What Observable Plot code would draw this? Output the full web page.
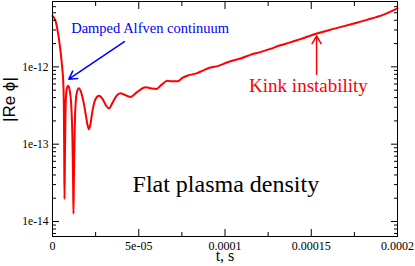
<!DOCTYPE html>
<html><head><meta charset="utf-8">
<script src="https://cdn.jsdelivr.net/npm/d3@7"></script>
<script src="https://cdn.jsdelivr.net/npm/@observablehq/plot@0.6"></script>
<style>body{margin:0;background:#fff}</style>
</head><body><div id="chart"></div>
<script>
// time in seconds
const time = [0, 1.74e-6, 3.30e-6, 4.63e-6, 5.62e-6, 6.20e-6, 6.55e-6, 6.78e-6, 6.95e-6, 7.24e-6,
  7.70e-6, 8.28e-6, 9.09e-6, 10.02e-6, 10.89e-6, 11.58e-6, 11.93e-6, 12.16e-6, 12.39e-6, 12.74e-6,
  13.32e-6, 14.19e-6, 15.23e-6, 16.51e-6, 17.96e-6, 19.40e-6, 20.27e-6, 21.14e-6, 22.01e-6, 23.17e-6,
  24.91e-6, 26.93e-6, 28.96e-6, 30.99e-6, 32.72e-6, 34.75e-6, 37.07e-6, 39.39e-6, 41.70e-6, 45.18e-6,
  49.23e-6, 53.87e-6, 56.76e-6, 60.24e-6, 63.13e-6, 66.61e-6, 69.50e-6, 72.40e-6, 75.30e-6, 78.77e-6,
  83.40e-6, 86.88e-6, 91.51e-6, 96.15e-6, 100.78e-6, 104.84e-6, 109.47e-6, 114.68e-6, 120.47e-6, 126.27e-6,
  132.06e-6, 137.85e-6, 143.64e-6, 153.31e-6, 162.93e-6, 172.60e-6, 182.27e-6, 191.89e-6, 200e-6];
// |Re phi|
const rePhi = [4.57e-12, 3.94e-12, 2.65e-12, 1.61e-12, 9.8e-13, 6.6e-13, 3.63e-13, 8.2e-14, 1.95e-14, 8.2e-14,
  3.63e-13, 5.2e-13, 5.7e-13, 4.9e-13, 3.13e-13, 1.1e-13, 3.35e-14, 1.26e-14, 3.35e-14, 1.1e-13,
  3.13e-13, 4.75e-13, 5.3e-13, 4.75e-13, 3.52e-13, 2.32e-13, 1.78e-13, 1.56e-13, 1.83e-13, 2.7e-13,
  3.82e-13, 4.22e-13, 3.86e-13, 3.18e-13, 2.9e-13, 3.42e-13, 4.22e-13, 4.54e-13, 4.35e-13, 4.09e-13,
  4.75e-13, 5.43e-13, 5.3e-13, 5.19e-13, 5.85e-13, 6.59e-13, 6.49e-13, 6.49e-13, 7.21e-13, 7.76e-13,
  8.24e-13, 8.87e-13, 9.79e-13, 1.03e-12, 1.13e-12, 1.21e-12, 1.29e-12, 1.43e-12, 1.55e-12, 1.71e-12,
  1.9e-12, 2.07e-12, 2.28e-12, 2.7e-12, 3.1e-12, 3.53e-12, 4.05e-12, 4.73e-12, 5.71e-12];

const xTicks = [0, 5e-5, 1e-4, 1.5e-4, 2e-4];
const xTickLabels = ["0", "5e-05", "0.0001", "0.00015", "0.0002"];
const xMinorTicks = [2.5e-5, 7.5e-5, 1.25e-4, 1.75e-4];
const yTicks = [1e-14, 1e-13, 1e-12];
const yTickLabels = ["1e-14", "1e-13", "1e-12"];
const yMinorTicks = [7e-15, 8e-15, 9e-15,
  2e-14, 3e-14, 4e-14, 5e-14, 6e-14, 7e-14, 8e-14, 9e-14,
  2e-13, 3e-13, 4e-13, 5e-13, 6e-13, 7e-13, 8e-13, 9e-13,
  2e-12, 3e-12, 4e-12, 5e-12, 6e-12, 7e-12];
const xDomain = [0, 2e-4];
const yDomain = [6.4e-15, 7e-12];

const xLabel = "t, s";
const yLabel = "|Re \u03D5|";

const notes = [
  {text: "Damped Alfven continuum", x: 10.83e-6, y: 2.78e-12},
  {text: "Kink instability", x: 148.4e-6, y: 4.79e-13},
  {text: "Flat plasma density", x: 100.5e-6, y: 2.42e-14}
];
const arrows = [
  {x1: 41.7e-6, y1: 2.12e-12, x2: 9.44e-6, y2: 6.93e-13},
  {x1: 153.1e-6, y1: 8.05e-13, x2: 153.1e-6, y2: 2.52e-12}
];

const series = time.map((t, i) => ({t, v: rePhi[i]}));
const serif = "Liberation Serif";
const sans = "Liberation Sans";

const chart = Plot.plot({
  width: 415,
  height: 266,
  marginLeft: 52,
  marginRight: 18,
  marginTop: 1,
  marginBottom: 30,
  style: {fontFamily: serif, fontSize: "12px", background: "#fff", color: "black"},
  x: {domain: xDomain},
  y: {type: "log", domain: yDomain},
  marks: [
    Plot.line(series, {x: "t", y: "v", stroke: "#ff0000", strokeWidth: 2, curve: "monotone-x"}),
    Plot.frame({stroke: "black", strokeWidth: 1}),
    Plot.axisX({anchor: "bottom", ticks: xTicks, tickSize: -7, tickPadding: 12, fontSize: 12, fontFamily: serif,
      tickFormat: d => xTickLabels[xTicks.indexOf(d)], label: null}),
    Plot.axisX({anchor: "bottom", ticks: xMinorTicks, tickSize: -4, fill: "none", label: null}),
    Plot.axisX({anchor: "top", ticks: xTicks, tickSize: -7, fill: "none", label: null}),
    Plot.axisX({anchor: "top", ticks: xMinorTicks, tickSize: -4, fill: "none", label: null}),
    Plot.axisY({anchor: "left", ticks: yTicks, tickSize: -7, tickPadding: 11, fontSize: 11.5, fontFamily: serif,
      tickFormat: d => yTickLabels[yTicks.indexOf(d)], label: null}),
    Plot.axisY({anchor: "left", ticks: yMinorTicks, tickSize: -4, fill: "none", label: null}),
    Plot.axisY({anchor: "right", ticks: yTicks, tickSize: -7, fill: "none", label: null}),
    Plot.axisY({anchor: "right", ticks: yMinorTicks, tickSize: -4, fill: "none", label: null}),
    Plot.text([xLabel], {frameAnchor: "bottom", dy: 24, fontSize: 16, fontFamily: serif, fill: "black"}),
    Plot.text([yLabel], {frameAnchor: "left", rotate: -90, dx: -42.8, dy: 3, fontSize: 17,
      fontFamily: sans, fill: "black"}),
    Plot.arrow([arrows[0]], {x1: "x1", y1: "y1", x2: "x2", y2: "y2", stroke: "#0000ff", strokeWidth: 1.5, headLength: 9}),
    Plot.arrow([arrows[1]], {x1: "x1", y1: "y1", x2: "x2", y2: "y2", stroke: "#ff0000", strokeWidth: 1.5, headLength: 9}),
    Plot.text([notes[0]], {x: "x", y: "y", text: "text", textAnchor: "start", lineAnchor: "bottom",
      fontSize: 14.5, fill: "#0000ff", fontFamily: serif}),
    Plot.text([notes[1]], {x: "x", y: "y", text: "text", textAnchor: "middle", lineAnchor: "bottom",
      fontSize: 19, fill: "#ff0000", fontFamily: serif}),
    Plot.text([notes[2]], {x: "x", y: "y", text: "text", textAnchor: "middle", lineAnchor: "bottom",
      fontSize: 24, fill: "black", fontFamily: serif})
  ]
});
document.getElementById("chart").appendChild(chart);
</script>
</body></html>
